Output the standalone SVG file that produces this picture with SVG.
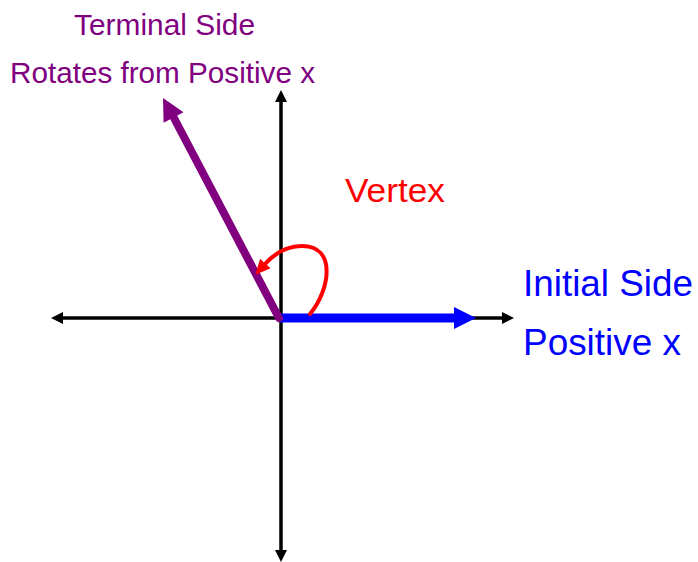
<svg xmlns="http://www.w3.org/2000/svg" width="698" height="562" viewBox="0 0 698 562">
  <style>
    text { font-family: "Liberation Sans", Arial, sans-serif; }
    .axis { stroke: #000; stroke-width: 3.5; fill: none; }
    .purple { fill: #800080; }
    .blue { fill: #0000FF; }
    .red { fill: #FF0000; }
  </style>
  <defs>
    <marker id="redhead" markerUnits="userSpaceOnUse" markerWidth="16" markerHeight="16" refX="2" refY="8" orient="auto">
      <polygon points="0,1 15,8 0,15" fill="#FF0000"/>
    </marker>
  </defs>
  <rect width="698" height="562" fill="#fff"/>

  <g id="connectors">
    <g id="x-axis">
      <line class="axis" x1="60" y1="318" x2="505" y2="318"/>
      <polygon points="51,318 63,312 63,324" fill="#000"/>
      <polygon points="514,318 502,312 502,324" fill="#000"/>
    </g>
    <g id="y-axis">
      <line class="axis" x1="281" y1="100" x2="281" y2="553"/>
      <polygon points="281,90 275,102 287,102" fill="#000"/>
      <polygon points="281,562 275,550 287,550" fill="#000"/>
    </g>
    <g id="initial-side">
      <line x1="280" y1="318" x2="456" y2="318" stroke="#0000FF" stroke-width="9"/>
      <polygon class="blue" points="454,307 476,318 454,329"/>
    </g>
    <g id="terminal-side">
      <line x1="279" y1="318" x2="174" y2="118" stroke="#800080" stroke-width="8" stroke-linecap="round"/>
      <polygon class="purple" points="163,98 183.5,112.2 163.6,122.8"/>
    </g>
    <g id="rotation-arc">
      <path d="M310,314 C330,290 337,246 302,246 C285,246 272,256 264,265" fill="none" stroke="#FF0000" stroke-width="4" stroke-linecap="round" marker-end="url(#redhead)"/>
    </g>
  </g>

  <g id="label-terminal">
    <text x="74" y="35" font-size="29" textLength="181" lengthAdjust="spacingAndGlyphs" fill="#800080">Terminal Side</text>
    <text x="10" y="83" font-size="29" textLength="305" lengthAdjust="spacingAndGlyphs" fill="#800080">Rotates from Positive x</text>
  </g>
  <g id="label-vertex">
    <text x="345" y="202" font-size="34" textLength="100" lengthAdjust="spacingAndGlyphs" fill="#FF0000">Vertex</text>
  </g>
  <g id="label-initial">
    <text x="523" y="296" font-size="36" textLength="170" lengthAdjust="spacingAndGlyphs" fill="#0000FF">Initial Side</text>
    <text x="523" y="355" font-size="36" textLength="158" lengthAdjust="spacingAndGlyphs" fill="#0000FF">Positive x</text>
  </g>
</svg>
